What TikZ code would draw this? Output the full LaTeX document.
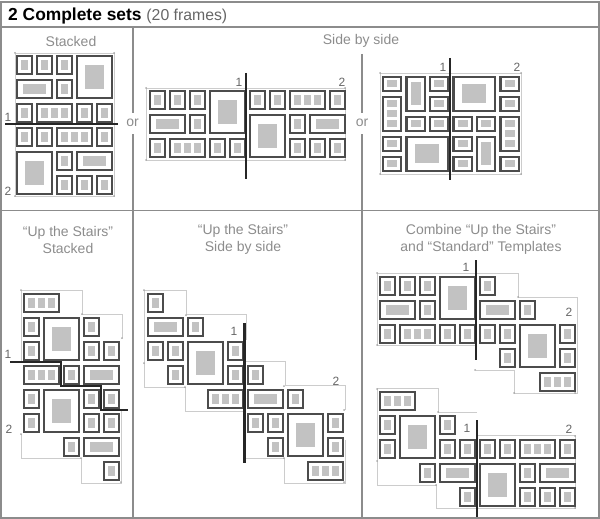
\documentclass[tikz,border=0pt]{standalone}
\usepackage{fontspec}
\setmainfont{Liberation Sans}
\definecolor{framegray}{gray}{0.3}
\definecolor{panegray}{gray}{0.76}
\definecolor{guidegray}{gray}{0.8}
\definecolor{rulegray}{gray}{0.55}
\definecolor{textgray}{gray}{0.55}
\tikzset{
  frameline/.style={draw=framegray, line width=2.1, fill=white},
  panefill/.style={fill=panegray},
  guideline/.style={draw=guidegray, line width=0.7},
  guidedot/.style={fill=gray!70},
  cutline/.style={draw=black!85, line width=2.2},
  panelrule/.style={draw=rulegray, line width=1.3},
  titletext/.style={text=textgray, font=\fontsize{14}{17}\selectfont, align=center},
  smalltext/.style={text=black!60, font=\fontsize{12}{14}\selectfont, inner sep=0},
}
% grid pitch and gaps of a layout
\newcommand{\gx}{20}
\newcommand{\gy}{24}
\newcommand{\gapx}{3.3}
\newcommand{\gapy}{4.4}
% kinds of mat: pane width, pane height, panes across, panes down
\newcommand{\pP}{{7}{10}{1}{1}}
\newcommand{\pW}{{23}{10}{1}{1}}
\newcommand{\pT}{{7}{10}{3}{1}}
\newcommand{\pB}{{19}{24}{1}{1}}
\newcommand{\pL}{{10}{7}{1}{1}}
\newcommand{\pH}{{10}{23}{1}{1}}
\newcommand{\pV}{{10}{7}{1}{3}}
\newcommand{\pC}{{24}{19}{1}{1}}
\newcommand{\Panes}[4]{%
  \foreach \i in {1,...,#3} \foreach \j in {1,...,#4}
    \fill[panefill] ({\cx+(\i-(#3+1)/2)*10-#1/2},{\cy+(\j-(#4+1)/2)*10-#2/2}) rectangle +(#1,#2);
}
% col, row, col span, row span, kind
\newcommand{\Frm}[5]{%
  \pgfmathsetmacro{\xa}{#1*\gx+1}
  \pgfmathsetmacro{\ya}{#2*\gy+1}
  \pgfmathsetmacro{\xb}{(#1+#3)*\gx-\gapx-1}
  \pgfmathsetmacro{\yb}{(#2+#4)*\gy-\gapy-1}
  \pgfmathsetmacro{\cx}{(\xa+\xb)/2}
  \pgfmathsetmacro{\cy}{(\ya+\yb)/2}
  \path[frameline] (\xa,\ya) rectangle (\xb,\yb);
  \expandafter\Panes#5
}
\begin{document}
\begin{tikzpicture}[x=1pt,y=-1pt]
  \useasboundingbox (0,0) rectangle (600,519);

  % Panels
  \draw[panelrule, line width=2] (1,2)--(599,2)--(599,518)--(1,518)--cycle;
  \draw[panelrule] (1,27)--(599,27);
  \draw[panelrule] (1,210.5)--(599,210.5);
  \draw[panelrule] (133,27)--(133,113);
  \draw[panelrule] (133,134)--(133,518);
  \draw[panelrule] (362,54)--(362,113);
  \draw[panelrule] (362,134)--(362,518);

  % Header and titles
  \node[anchor=west, inner sep=0] (head) at (8,16) {\fontsize{17.4}{19}\selectfont\textbf{2 Complete sets} \textcolor{black!60}{\fontsize{15.8}{19}\selectfont(20 frames)}};
  \node[titletext] (stacked) at (71,41) {Stacked};
  \node[titletext] (sidebyside) at (361,41) {Side by side};
  \node[titletext] (orone) at (132.5,123) {or};
  \node[titletext] (ortwo) at (362,123) {or};
  \node[titletext] (stairsa) at (68,239.5) {“Up the Stairs”\\Stacked};
  \node[titletext] (stairsb) at (243,239.5) {“Up the Stairs”\\Side by side};
  \node[titletext] (combine) at (481,239.5) {Combine “Up the Stairs”\\and “Standard” Templates};

  % Guides
  \draw[guideline] (15,53) rectangle (114,196);
  \draw[guideline] (146,88) rectangle (345,160);
  \draw[guideline] (380,73) rectangle (521,174);
  \draw[guideline] (21,290)--(82,290)--(82,314)--(122,314)--(122,338);
  \draw[guideline] (21,290)--(21,362);
  \draw[guideline] (21,434)--(21,458)--(81,458)--(81,483)--(121,483)--(121,410);
  \draw[guideline] (144,387)--(144,290)--(186,290)--(186,314)--(246,314)--(246,340);
  \draw[guideline] (144,387)--(185,387)--(185,411)--(245,411);
  \draw[guideline] (246,361)--(285,361)--(285,385)--(345,385)--(345,410);
  \draw[guideline] (245,458)--(284,458)--(284,483)--(345,483)--(345,440);
  \draw[guideline] (476,345)--(377,345)--(377,273)--(518,273)--(518,297)--(577,297)--(577,393)--(514,393)--(514,370)--(476,370);
  \draw[guideline] (477,412)--(438,412)--(438,388)--(377,388)--(377,485)--(436,485)--(436,508)--(575,508)--(575,435)--(477,435);
  \foreach \p in {(15,53),(114,53),(15,196),(114,196),(146,88),(345,88),(146,160),(345,160),(380,73),(521,73),(380,174),(521,174),
    (21,290),(82,314),(122,338),(21,434),(81,458),(121,482),
    (144,290),(186,315),(144,363),(185,387),(284,386),(344,410),(284,458),(344,482),
    (377,273),(518,297),(377,345),(475,370),(514,393),(575,393),
    (377,389),(438,412),(377,461),(575,436),(436,485),(575,508)}
    \fill[guidedot] \p circle (1);

  % Stacked
  \begin{scope}[shift={(16,55)}]
    \Frm{0}{0}{1}{1}{\pP} \Frm{1}{0}{1}{1}{\pP} \Frm{2}{0}{1}{1}{\pP} \Frm{3}{0}{2}{2}{\pB}
    \Frm{0}{1}{2}{1}{\pW} \Frm{2}{1}{1}{1}{\pP}
    \Frm{0}{2}{1}{1}{\pP} \Frm{1}{2}{2}{1}{\pT} \Frm{3}{2}{1}{1}{\pP} \Frm{4}{2}{1}{1}{\pP}
    \Frm{0}{3}{1}{1}{\pP} \Frm{1}{3}{1}{1}{\pP} \Frm{2}{3}{2}{1}{\pT} \Frm{4}{3}{1}{1}{\pP}
    \Frm{0}{4}{2}{2}{\pB} \Frm{2}{4}{1}{1}{\pP} \Frm{3}{4}{2}{1}{\pW}
    \Frm{2}{5}{1}{1}{\pP} \Frm{3}{5}{1}{1}{\pP} \Frm{4}{5}{1}{1}{\pP}
  \end{scope}

  % Side by side, long
  \begin{scope}[shift={(149,90)}]
    \Frm{0}{0}{1}{1}{\pP} \Frm{1}{0}{1}{1}{\pP} \Frm{2}{0}{1}{1}{\pP} \Frm{3}{0}{2}{2}{\pB}
    \Frm{0}{1}{2}{1}{\pW} \Frm{2}{1}{1}{1}{\pP}
    \Frm{0}{2}{1}{1}{\pP} \Frm{1}{2}{2}{1}{\pT} \Frm{3}{2}{1}{1}{\pP} \Frm{4}{2}{1}{1}{\pP}
    \Frm{5}{0}{1}{1}{\pP} \Frm{6}{0}{1}{1}{\pP} \Frm{7}{0}{2}{1}{\pT} \Frm{9}{0}{1}{1}{\pP}
    \Frm{5}{1}{2}{2}{\pB} \Frm{7}{1}{1}{1}{\pP} \Frm{8}{1}{2}{1}{\pW}
    \Frm{7}{2}{1}{1}{\pP} \Frm{8}{2}{1}{1}{\pP} \Frm{9}{2}{1}{1}{\pP}
  \end{scope}

  % Side by side, turned
  \begin{scope}[shift={(382,76)}]
    \def\gx{23.5} \def\gy{20}
    \Frm{0}{0}{1}{1}{\pL} \Frm{1}{0}{1}{2}{\pH} \Frm{2}{0}{1}{1}{\pL} \Frm{3}{0}{2}{2}{\pC} \Frm{5}{0}{1}{1}{\pL}
    \Frm{0}{1}{1}{2}{\pV} \Frm{2}{1}{1}{1}{\pL} \Frm{5}{1}{1}{1}{\pL}
    \Frm{1}{2}{1}{1}{\pL} \Frm{2}{2}{1}{1}{\pL} \Frm{3}{2}{1}{1}{\pL} \Frm{4}{2}{1}{1}{\pL} \Frm{5}{2}{1}{2}{\pV}
    \Frm{0}{3}{1}{1}{\pL} \Frm{1}{3}{2}{2}{\pC} \Frm{3}{3}{1}{1}{\pL} \Frm{4}{3}{1}{2}{\pH}
    \Frm{0}{4}{1}{1}{\pL} \Frm{3}{4}{1}{1}{\pL} \Frm{5}{4}{1}{1}{\pL}
  \end{scope}

  % Up the Stairs, stacked
  \begin{scope}[shift={(23,293)}]
    \Frm{0}{0}{2}{1}{\pT}
    \Frm{0}{1}{1}{1}{\pP} \Frm{1}{1}{2}{2}{\pB} \Frm{3}{1}{1}{1}{\pP}
    \Frm{0}{2}{1}{1}{\pP} \Frm{3}{2}{1}{1}{\pP} \Frm{4}{2}{1}{1}{\pP}
    \Frm{0}{3}{2}{1}{\pT} \Frm{2}{3}{1}{1}{\pP} \Frm{3}{3}{2}{1}{\pW}
    \Frm{0}{4}{1}{1}{\pP} \Frm{1}{4}{2}{2}{\pB} \Frm{3}{4}{1}{1}{\pP} \Frm{4}{4}{1}{1}{\pP}
    \Frm{0}{5}{1}{1}{\pP} \Frm{3}{5}{1}{1}{\pP} \Frm{4}{5}{1}{1}{\pP}
    \Frm{2}{6}{1}{1}{\pP} \Frm{3}{6}{2}{1}{\pW}
    \Frm{4}{7}{1}{1}{\pP}
  \end{scope}

  % Up the Stairs, side by side
  \begin{scope}[shift={(147,293)}]
    \Frm{0}{0}{1}{1}{\pP}
    \Frm{0}{1}{2}{1}{\pW} \Frm{2}{1}{1}{1}{\pP}
    \Frm{0}{2}{1}{1}{\pP} \Frm{1}{2}{1}{1}{\pP} \Frm{2}{2}{2}{2}{\pB} \Frm{4}{2}{1}{1}{\pP}
    \Frm{1}{3}{1}{1}{\pP} \Frm{4}{3}{1}{1}{\pP} \Frm{5}{3}{1}{1}{\pP}
    \Frm{3}{4}{2}{1}{\pT} \Frm{5}{4}{2}{1}{\pW} \Frm{7}{4}{1}{1}{\pP}
    \Frm{5}{5}{1}{1}{\pP} \Frm{6}{5}{1}{1}{\pP} \Frm{7}{5}{2}{2}{\pB} \Frm{9}{5}{1}{1}{\pP}
    \Frm{6}{6}{1}{1}{\pP} \Frm{9}{6}{1}{1}{\pP}
    \Frm{8}{7}{2}{1}{\pT}
  \end{scope}

  % Combine, upper
  \begin{scope}[shift={(379,276)}]
    \Frm{0}{0}{1}{1}{\pP} \Frm{1}{0}{1}{1}{\pP} \Frm{2}{0}{1}{1}{\pP} \Frm{3}{0}{2}{2}{\pB} \Frm{5}{0}{1}{1}{\pP}
    \Frm{0}{1}{2}{1}{\pW} \Frm{2}{1}{1}{1}{\pP} \Frm{5}{1}{2}{1}{\pW} \Frm{7}{1}{1}{1}{\pP}
    \Frm{0}{2}{1}{1}{\pP} \Frm{1}{2}{2}{1}{\pT} \Frm{3}{2}{1}{1}{\pP} \Frm{4}{2}{1}{1}{\pP} \Frm{5}{2}{1}{1}{\pP} \Frm{6}{2}{1}{1}{\pP} \Frm{7}{2}{2}{2}{\pB} \Frm{9}{2}{1}{1}{\pP}
    \Frm{6}{3}{1}{1}{\pP} \Frm{9}{3}{1}{1}{\pP}
    \Frm{8}{4}{2}{1}{\pT}
  \end{scope}

  % Combine, lower
  \begin{scope}[shift={(379,391)}]
    \Frm{0}{0}{2}{1}{\pT}
    \Frm{0}{1}{1}{1}{\pP} \Frm{1}{1}{2}{2}{\pB} \Frm{3}{1}{1}{1}{\pP}
    \Frm{0}{2}{1}{1}{\pP} \Frm{3}{2}{1}{1}{\pP} \Frm{4}{2}{1}{1}{\pP} \Frm{5}{2}{1}{1}{\pP} \Frm{6}{2}{1}{1}{\pP} \Frm{7}{2}{2}{1}{\pT} \Frm{9}{2}{1}{1}{\pP}
    \Frm{2}{3}{1}{1}{\pP} \Frm{3}{3}{2}{1}{\pW} \Frm{5}{3}{2}{2}{\pB} \Frm{7}{3}{1}{1}{\pP} \Frm{8}{3}{2}{1}{\pW}
    \Frm{4}{4}{1}{1}{\pP} \Frm{7}{4}{1}{1}{\pP} \Frm{8}{4}{1}{1}{\pP} \Frm{9}{4}{1}{1}{\pP}
  \end{scope}

  % Cuts
  \draw[cutline] (5,124)--(118,124);
  \draw[cutline] (246,73)--(246,179);
  \draw[cutline] (450,58)--(450,180);
  \draw[cutline] (10,362)--(61,362)--(61,386)--(101,386)--(101,410)--(128,410);
  \draw[cutline] (244.5,323)--(244.5,463);
  \draw[cutline] (476,260)--(476,360);
  \draw[cutline] (477,420)--(477,517);

  % Numbers
  \node[smalltext] (numa) at (8,117) {1};
  \node[smalltext] (numb) at (8,191) {2};
  \node[smalltext] (numc) at (239,82) {1};
  \node[smalltext] (numd) at (342,82) {2};
  \node[smalltext] (nume) at (443,67) {1};
  \node[smalltext] (numf) at (517,67) {2};
  \node[smalltext] (numg) at (8,354) {1};
  \node[smalltext] (numh) at (9,429) {2};
  \node[smalltext] (numi) at (234,331) {1};
  \node[smalltext] (numj) at (336,381) {2};
  \node[smalltext] (numk) at (466,267) {1};
  \node[smalltext] (numl) at (569,312) {2};
  \node[smalltext] (numm) at (467,428) {1};
  \node[smalltext] (numn) at (569,429) {2};
\end{tikzpicture}
\end{document}
